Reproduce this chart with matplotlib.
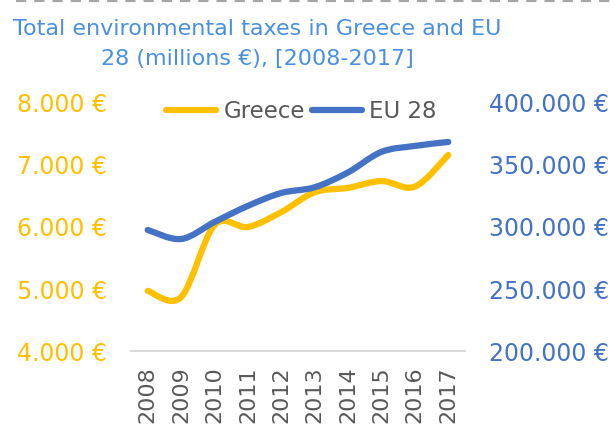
import numpy as np
import matplotlib.pyplot as plt
from matplotlib.path import Path
from matplotlib.patches import PathPatch
from matplotlib.lines import Line2D

years = ["2008", "2009", "2010", "2011", "2012", "2013", "2014", "2015", "2016", "2017"]
greece = [4970, 4870, 6030, 6000, 6240, 6560, 6630, 6740, 6650, 7160]
eu28 = [297600, 290300, 304000, 317000, 327400, 332000, 344000, 360500, 365300, 368500]

yellow = "#FFC000"
blue = "#4472C4"
grey = "#595959"


def smooth_path(xs, ys):
    # Excel-style smoothed line: Catmull-Rom as cubic Bezier segments
    xs = np.asarray(xs, float)
    ys = np.asarray(ys, float)
    pts = np.column_stack([xs, ys])
    verts = [pts[0]]
    codes = [Path.MOVETO]
    n = len(pts)
    for i in range(n - 1):
        p0 = pts[i - 1] if i > 0 else pts[i]
        p1 = pts[i]
        p2 = pts[i + 1]
        p3 = pts[i + 2] if i + 2 < n else pts[i + 1]
        c1 = p1 + (p2 - p0) / 6.0
        c2 = p2 - (p3 - p1) / 6.0
        verts += [c1, c2, p2]
        codes += [Path.CURVE4] * 3
    return Path(verts, codes)


fig = plt.figure(figsize=(6.15, 4.34), dpi=100)
ax = fig.add_axes([0.213, 0.191, 0.543, 0.572])
ax2 = ax.twinx()

x = np.arange(len(years))
ax.add_patch(PathPatch(smooth_path(x, greece), fill=False, ec=yellow, lw=4.5,
                       capstyle="round", joinstyle="round", zorder=3))
ax2.add_patch(PathPatch(smooth_path(x, eu28), fill=False, ec=blue, lw=4.5,
                        capstyle="round", joinstyle="round", zorder=3))

ax.set_xlim(-0.5, len(years) - 0.5)
ax.set_ylim(4000, 8000)
ax2.set_ylim(200000, 400000)
ax.set_yticks([4000, 5000, 6000, 7000, 8000])
ax2.set_yticks([200000, 250000, 300000, 350000, 400000])
fmt = lambda v: "{:,.0f} €".format(v).replace(",", ".")
ax.set_yticklabels([fmt(v) for v in ax.get_yticks()], color=yellow, fontsize=17)
ax2.set_yticklabels([fmt(v) for v in ax2.get_yticks()], color=blue, fontsize=17)
ax.set_xticks(x)
ax.set_xticklabels(years, rotation=90, color=grey, fontsize=16)

for a in (ax, ax2):
    for s in ("top", "left", "right"):
        a.spines[s].set_visible(False)
    a.spines["bottom"].set_color("#D9D9D9")
    a.spines["bottom"].set_linewidth(1.2)
    a.tick_params(length=0)
ax.tick_params(axis="y", pad=17)
ax2.tick_params(axis="y", pad=17)
ax.tick_params(axis="x", pad=11)

handles = [Line2D([], [], color=yellow, lw=4.5, solid_capstyle="round"),
           Line2D([], [], color=blue, lw=4.5, solid_capstyle="round")]
leg = ax2.legend(handles, ["Greece", "EU 28"], loc="center", ncol=2,
                 frameon=False, fontsize=16.5, handlelength=2.2, handletextpad=0.3,
                 columnspacing=0.3, bbox_to_anchor=(0.51, 0.965),
                 borderpad=0, borderaxespad=0)
for t in leg.get_texts():
    t.set_color(grey)

title_color = "#4A90E2"
fig.text(0.418, 1 - 35 / 434, "Total environmental taxes in Greece and EU",
         ha="center", va="baseline", color=title_color, fontsize=16)
fig.text(0.418, 1 - 65 / 434, "28 (millions €), [2008-2017]",
         ha="center", va="baseline", color=title_color, fontsize=16)
fig.add_artist(Line2D([0.026, 1.0], [0.997, 0.997], transform=fig.transFigure,
                      color="#A6A6A6", lw=1.6, ls=(0, (4.6, 3.6))))

fig.savefig("out.png", dpi=100)
